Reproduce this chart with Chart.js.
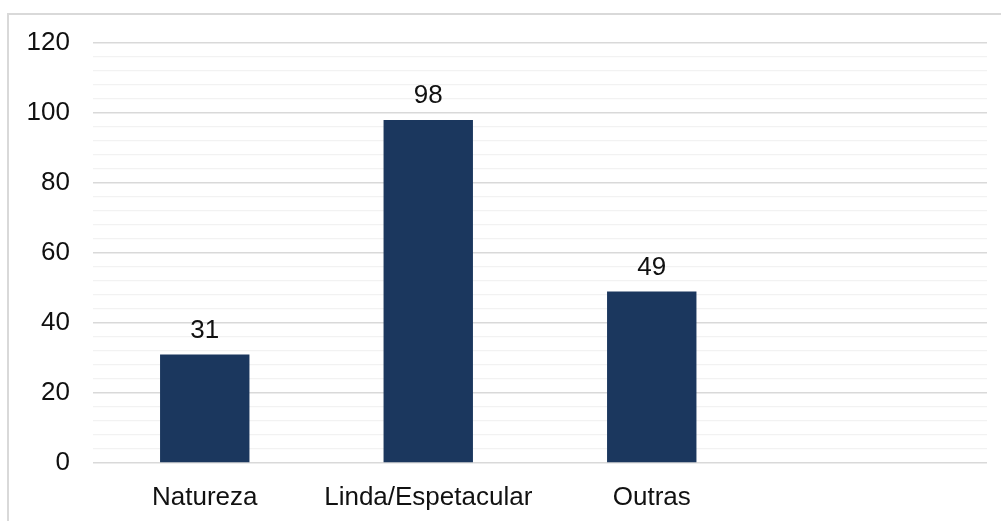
<!DOCTYPE html>
<html>
<head>
<meta charset="utf-8">
<script src="https://cdn.jsdelivr.net/npm/chart.js@4"></script>
<style>
  html, body { margin: 0; padding: 0; background: #fff; overflow: hidden; }
  #wrap { position: relative; width: 1001px; height: 521px; }
  #frame { position: absolute; left: 7px; top: 13px; width: 1100px; height: 600px; border: 2px solid #d9d9d9; box-sizing: border-box; pointer-events: none; }
  canvas { position: absolute; left: 0; top: 0; }
</style>
</head>
<body>
<div id="wrap">
  <canvas id="c" width="1001" height="521"></canvas>
  <div id="frame"></div>
</div>
<script>
const categories = ["Natureza", "Linda/Espetacular", "Outras", ""];
const values = [31, 98, 49, null];
const yMin = 0, yMax = 120, yMajorStep = 20, yMinorStep = 4;

const FONT = '"Liberation Sans", Arial, sans-serif';

const valueLabels = {
  id: 'valueLabels',
  afterDatasetsDraw(chart) {
    const ctx = chart.ctx;
    const meta = chart.getDatasetMeta(0);
    ctx.save();
    ctx.font = '26px ' + FONT;
    ctx.fillStyle = '#111111';
    ctx.textAlign = 'center';
    ctx.textBaseline = 'alphabetic';
    meta.data.forEach((bar, i) => {
      const v = values[i];
      if (v === null || v === undefined) return;
      ctx.fillText(String(v), bar.x, bar.y - 17);
    });
    ctx.restore();
  }
};

new Chart(document.getElementById('c'), {
  type: 'bar',
  data: {
    labels: categories,
    datasets: [{
      data: values,
      backgroundColor: '#1b375e',
      categoryPercentage: 1,
      barPercentage: 0.4
    }]
  },
  options: {
    responsive: false,
    animation: false,
    devicePixelRatio: 1,
    layout: { padding: { top: 43, right: 14, left: 0, bottom: 0 } },
    plugins: { legend: { display: false }, tooltip: { enabled: false } },
    scales: {
      x: {
        grid: { display: false, drawTicks: false },
        border: { display: false },
        ticks: {
          color: '#111111',
          font: { family: FONT, size: 26 },
          padding: 19,
          maxRotation: 0, autoSkip: false
        },
        afterFit(s) { s.height = 58; }
      },
      y: {
        min: yMin, max: yMax,
        border: { display: false },
        grid: {
          drawTicks: false,
          color: (c) => (c.tick && c.tick.value % yMajorStep === 0) ? '#d9d9d9' : '#f2f2f2',
          lineWidth: (c) => (c.tick && c.tick.value % yMajorStep === 0) ? 1.5 : 1.3
        },
        ticks: {
          stepSize: yMinorStep,
          autoSkip: false,
          color: '#111111',
          font: { family: FONT, size: 26 },
          padding: 23,
          callback: (v) => (v % yMajorStep === 0 ? String(v) : '')
        },
        afterFit(s) { s.width = 93; }
      }
    }
  },
  plugins: [valueLabels]
});
</script>
</body>
</html>
